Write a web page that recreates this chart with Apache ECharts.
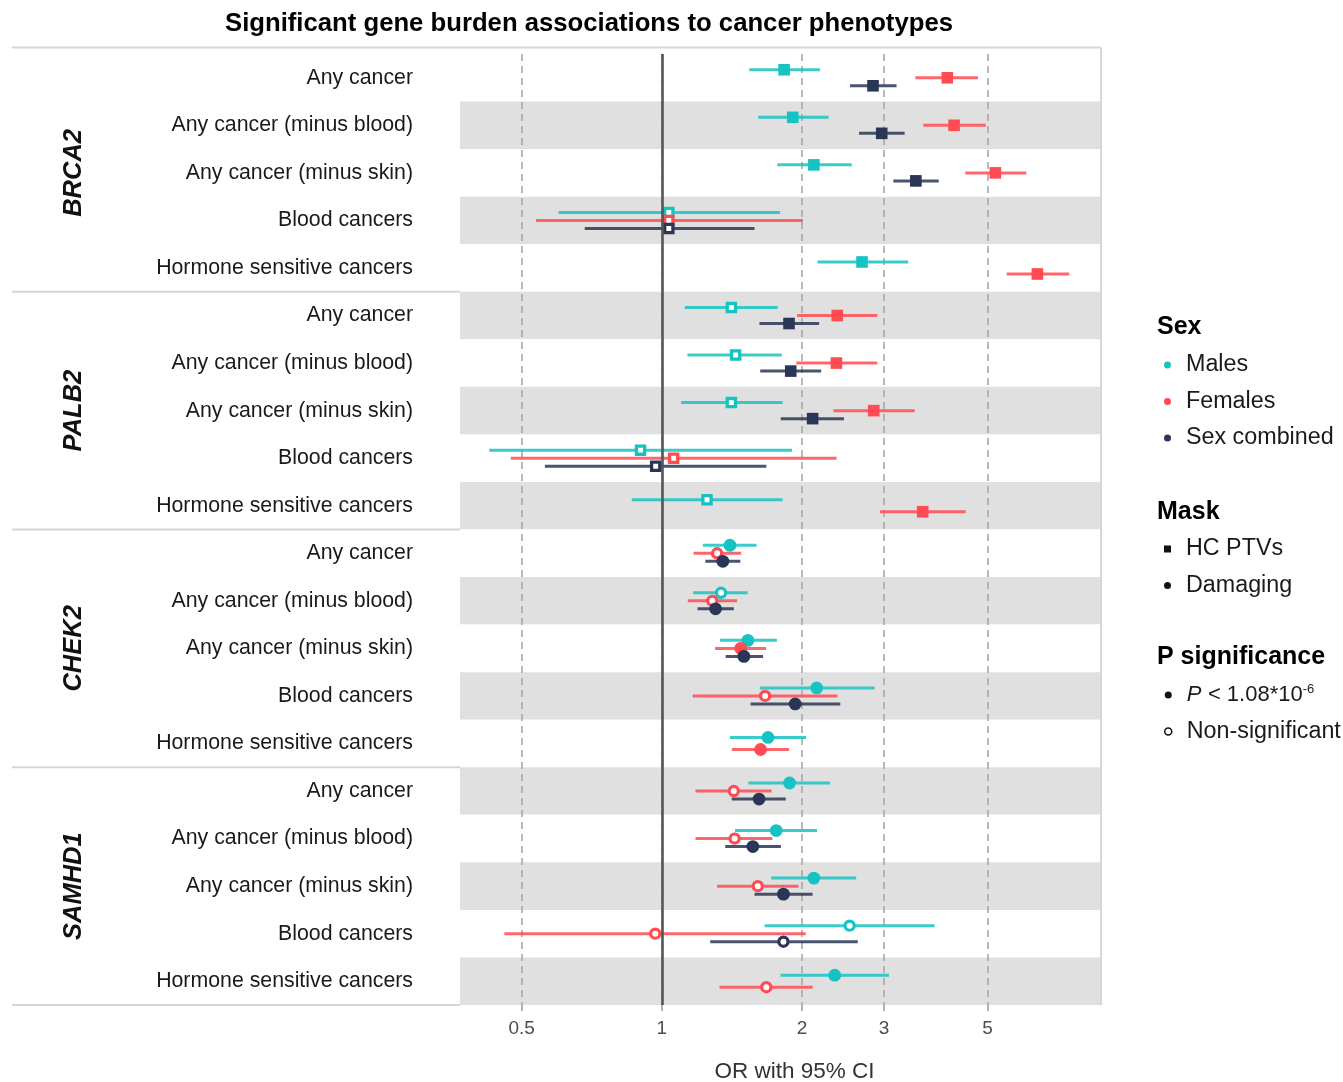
<!DOCTYPE html>
<html><head><meta charset="utf-8">
<script src="https://cdn.jsdelivr.net/npm/echarts@6/dist/echarts.min.js"></script>
<style>html,body{margin:0;padding:0;background:#fff}#c{width:1343px;height:1082px}</style>
</head><body><div id="c"></div>
<script>
// ---------- data ----------
const genes = ['BRCA2', 'PALB2', 'CHEK2', 'SAMHD1'];
const geneMask = ['HC PTVs', 'HC PTVs', 'Damaging', 'Damaging'];
const phenotypes = ['Any cancer', 'Any cancer (minus blood)', 'Any cancer (minus skin)', 'Blood cancers', 'Hormone sensitive cancers'];
const tickValues = [0.5, 1, 2, 3, 5];
const sexes = ['Males', 'Females', 'Sex combined'];
const maskNames = ['HC PTVs', 'Damaging'];
const sigNames = ['P < 1.08*10-6', 'Non-significant'];

// rows: BRCA2 x5, PALB2 x5, CHEK2 x5, SAMHD1 x5 (phenotype order as above)
const malesOR  = [1.83, 1.91, 2.12, 1.035, 2.69,  1.41, 1.44, 1.41, 0.90, 1.25,  1.40, 1.34, 1.53, 2.15, 1.69,  1.88, 1.76, 2.12, 2.53, 2.35];
const malesLo  = [1.54, 1.61, 1.77, 0.60, 2.16,  1.12, 1.135, 1.10, 0.426, 0.862,  1.225, 1.167, 1.333, 1.623, 1.40,  1.534, 1.436, 1.717, 1.662, 1.798];
const malesHi  = [2.185, 2.28, 2.556, 1.794, 3.38,  1.773, 1.809, 1.816, 1.902, 1.816,  1.597, 1.528, 1.766, 2.86, 2.04,  2.297, 2.154, 2.613, 3.85, 3.074];
const malesSig = [1, 1, 1, 0, 1,  0, 0, 0, 0, 0,  1, 0, 1, 1, 1,  1, 1, 1, 0, 1];

const femalesOR  = [4.10, 4.24, 5.20, 1.035, 6.40,  2.38, 2.37, 2.85, 1.06, 3.63,  1.314, 1.283, 1.477, 1.666, 1.629,  1.427, 1.433, 1.607, 0.968, 1.676];
const femalesLo  = [3.50, 3.64, 4.48, 0.537, 5.50,  1.952, 1.944, 2.335, 0.474, 2.94,  1.17, 1.137, 1.301, 1.165, 1.413,  1.181, 1.181, 1.314, 0.459, 1.33];
const femalesHi  = [4.77, 4.96, 6.06, 2.008, 7.49,  2.90, 2.90, 3.49, 2.372, 4.49,  1.48, 1.45, 1.673, 2.382, 1.875,  1.72, 1.727, 1.964, 2.037, 2.107];
const femalesSig = [1, 1, 1, 0, 1,  1, 1, 1, 0, 1,  0, 0, 1, 0, 1,  0, 0, 0, 0, 0];

const combinedOR  = [2.84, 2.965, 3.51, 1.035, null,  1.875, 1.891, 2.107, 0.970, null,  1.352, 1.304, 1.50, 1.933, null,  1.617, 1.568, 1.824, 1.824, null];
const combinedLo  = [2.535, 2.65, 3.14, 0.683, null,  1.62, 1.626, 1.80, 0.561, null,  1.24, 1.193, 1.371, 1.55, null,  1.413, 1.368, 1.581, 1.27, null];
const combinedHi  = [3.19, 3.32, 3.93, 1.581, null,  2.176, 2.198, 2.46, 1.676, null,  1.474, 1.427, 1.649, 2.416, null,  1.845, 1.801, 2.107, 2.634, null];
const combinedSig = [1, 1, 1, 0, null,  1, 1, 1, 0, null,  1, 1, 1, 1, null,  1, 1, 1, 0, null];

// ---------- styling ----------
const sexColors = ['#17C2C2', '#FF4B52', '#2A3656'];
const FONT = '"Liberation Sans", Arial, sans-serif';
const G = { left: 460, top: 54, right: 1101, bottom: 1005, panelTop: 47.5, labelLeft: 12 };
const DODGE = 0.505;
const SQUARE_ICON = 'path://M0,0L10,0L10,10L0,10Z';

const rowKeys = [];
genes.forEach(g => phenotypes.forEach(p => rowKeys.push(g + '|' + p)));

const seriesSets = [
  [malesOR, malesLo, malesHi, malesSig],
  [femalesOR, femalesLo, femalesHi, femalesSig],
  [combinedOR, combinedLo, combinedHi, combinedSig]
];

function buildData(k) {
  const out = [];
  rowKeys.forEach((key, i) => {
    const [or, lo, hi, sig] = seriesSets[k];
    if (or[i] == null) return;
    const present = seriesSets.map((s, j) => s[0][i] != null ? j : -1).filter(j => j >= 0);
    const n = present.length, idx = present.indexOf(k);
    const frac = DODGE * (idx - (n - 1) / 2) / n;
    const shape = geneMask[Math.floor(i / phenotypes.length)] === 'HC PTVs' ? 0 : 1;
    out.push([i, lo[i], hi[i], or[i], sig[i], shape, frac]);
  });
  return out;
}

function renderItem(params, api) {
  const row = api.value(0), lo = api.value(1), hi = api.value(2), or = api.value(3);
  const sig = api.value(4), shape = api.value(5), frac = api.value(6);
  const band = api.size([1, 1])[1];
  const c = api.coord([or, row]);
  const y = c[1] + frac * band;
  const pl = api.coord([lo, row]), ph = api.coord([hi, row]);
  const color = api.visual('color');
  const ch = [{ type: 'line', shape: { x1: pl[0], y1: y, x2: ph[0], y2: y },
    style: { stroke: color, lineWidth: 3, opacity: 0.85 } }];
  if (shape === 0) {
    if (sig) ch.push({ type: 'rect', shape: { x: c[0] - 5.8, y: y - 5.8, width: 11.6, height: 11.6 }, style: { fill: color } });
    else ch.push({ type: 'rect', shape: { x: c[0] - 4.1, y: y - 4.1, width: 8.2, height: 8.2 }, style: { fill: '#fff', stroke: color, lineWidth: 3.3 } });
  } else {
    if (sig) ch.push({ type: 'circle', shape: { cx: c[0], cy: y, r: 6.4 }, style: { fill: color } });
    else ch.push({ type: 'circle', shape: { cx: c[0], cy: y, r: 4.6 }, style: { fill: '#fff', stroke: color, lineWidth: 3.2 } });
  }
  return { type: 'group', children: ch };
}

const series = sexes.map((name, k) => ({
  name, type: 'custom', z: 3,
  itemStyle: { color: sexColors[k] },
  renderItem,
  encode: { x: [1, 2, 3], y: 0 },
  data: buildData(k)
}));
// reference line at OR = 1
series.push({
  name: 'ref', type: 'custom', z: 2, data: [], renderItem: () => null,
  markLine: { silent: true, symbol: 'none', label: { show: false },
    lineStyle: { color: '#555', width: 2.6, type: 'solid' }, data: [{ xAxis: 1 }] }
});
// legend-only series
maskNames.concat(sigNames).forEach(name => series.push({ name, type: 'custom', data: [], renderItem: () => null }));

const legendBase = {
  orient: 'vertical', left: 1159, itemWidth: 27, itemHeight: 7, itemGap: 12.5,
  symbolKeepAspect: true, selectedMode: false, align: 'left',
  textStyle: { fontFamily: FONT, fontSize: 23.3, color: '#1a1a1a', lineHeight: 24,
    rich: { i: { fontStyle: 'italic', fontSize: 22, fontFamily: FONT, color: '#1a1a1a' },
            s: { fontSize: 13, fontFamily: FONT, color: '#1a1a1a', padding: [0, 0, 11, 0] },
            n: { fontSize: 22, fontFamily: FONT, color: '#1a1a1a' } } }
};

const option = {
  backgroundColor: '#fff',
  animation: false,
  title: [
    { text: 'Significant gene burden associations to cancer phenotypes', left: 225, top: 11, padding: 0,
      textStyle: { fontFamily: FONT, fontSize: 25.7, fontWeight: 'bold', color: '#000' } },
    { text: 'Sex', left: 1157, top: 314.5, padding: 0, textStyle: { fontFamily: FONT, fontSize: 25, fontWeight: 'bold', color: '#000' } },
    { text: 'Mask', left: 1157, top: 499.5, padding: 0, textStyle: { fontFamily: FONT, fontSize: 25, fontWeight: 'bold', color: '#000' } },
    { text: 'P significance', left: 1157, top: 644.5, padding: 0, textStyle: { fontFamily: FONT, fontSize: 25, fontWeight: 'bold', color: '#000' } }
  ],
  legend: [
    Object.assign({}, legendBase, { top: 348, data: sexes.map(n => ({ name: n, icon: 'circle' })) }),
    Object.assign({}, legendBase, { top: 532, data: [
      { name: maskNames[0], icon: SQUARE_ICON, itemStyle: { color: '#111' } },
      { name: maskNames[1], icon: 'circle', itemStyle: { color: '#111' } }] }),
    Object.assign({}, legendBase, { top: 678,
      formatter: n => n === sigNames[0] ? '{i|P} {n|< 1.08*10}{s|-6}' : n,
      data: [
      { name: sigNames[0], icon: 'circle', itemStyle: { color: '#111' } },
      { name: sigNames[1], icon: 'circle', itemStyle: { color: '#fff', borderColor: '#111', borderWidth: 1.5 } }] })
  ],
  grid: { left: G.left, top: G.top, width: G.right - G.left, height: G.bottom - G.top,
    containLabel: false, outerBoundsMode: 'none' },
  xAxis: {
    type: 'log', logBase: 10, min: 0.3687, max: 8.765,
    axisLine: { show: false },
    axisTick: { show: true, customValues: tickValues, length: 6, lineStyle: { color: '#999', width: 1.5 } },
    axisLabel: { customValues: tickValues, formatter: v => String(v), fontFamily: FONT, fontSize: 19, color: '#4d4d4d', margin: 14 },
    splitLine: { show: true, lineStyle: { color: '#a8a8a8', width: 1.6, type: [7, 5] } },
    name: 'OR with 95% CI', nameLocation: 'middle', nameGap: 55,
    nameTextStyle: { fontFamily: FONT, fontSize: 22.5, color: '#333', padding: [0, 0, 0, 28] }
  },
  yAxis: [
    {
      type: 'category', inverse: true, data: rowKeys,
      axisLine: { show: false }, axisTick: { show: false },
      axisLabel: { interval: 0, margin: 47, fontFamily: FONT, fontSize: 21.3, color: '#1a1a1a', formatter: v => v.split('|')[1] },
      splitLine: { show: false },
      splitArea: { show: true, interval: 0, areaStyle: { color: ['#ffffff', '#e0e0e0'] } }
    },
    {
      type: 'category', inverse: true, data: genes, position: 'left',
      axisLine: { show: false }, axisTick: { show: false }, splitLine: { show: false }, splitArea: { show: false },
      axisLabel: { interval: 0, rotate: 90, margin: 373, fontFamily: FONT, fontSize: 25.5, fontWeight: 'bold', fontStyle: 'italic', color: '#111' }
    }
  ],
  series
};

const chart = echarts.init(document.getElementById('c'), null, { renderer: 'canvas' });
chart.setOption(option);

// panel border and group separators (positions from the axis scale)
const c0 = chart.convertToPixel({ yAxisIndex: 0 }, rowKeys[0]);
const c1 = chart.convertToPixel({ yAxisIndex: 0 }, rowKeys[1]);
const band = c1 - c0;
const lineStyle = { stroke: '#d6d6d6', lineWidth: 2 };
const graphics = [
  { type: 'line', shape: { x1: G.labelLeft, y1: G.panelTop, x2: G.right, y2: G.panelTop }, style: lineStyle, silent: true },
  { type: 'line', shape: { x1: G.right, y1: G.panelTop, x2: G.right, y2: G.bottom }, style: lineStyle, silent: true }
];
for (let g = 1; g <= genes.length; g++) {
  const lastRow = rowKeys[g * phenotypes.length - 1];
  const y = chart.convertToPixel({ yAxisIndex: 0 }, lastRow) + band / 2;
  graphics.push({ type: 'line', shape: { x1: G.labelLeft, y1: y, x2: G.left, y2: y }, style: lineStyle, silent: true });
}
chart.setOption({ graphic: graphics });
</script>
</body></html>
